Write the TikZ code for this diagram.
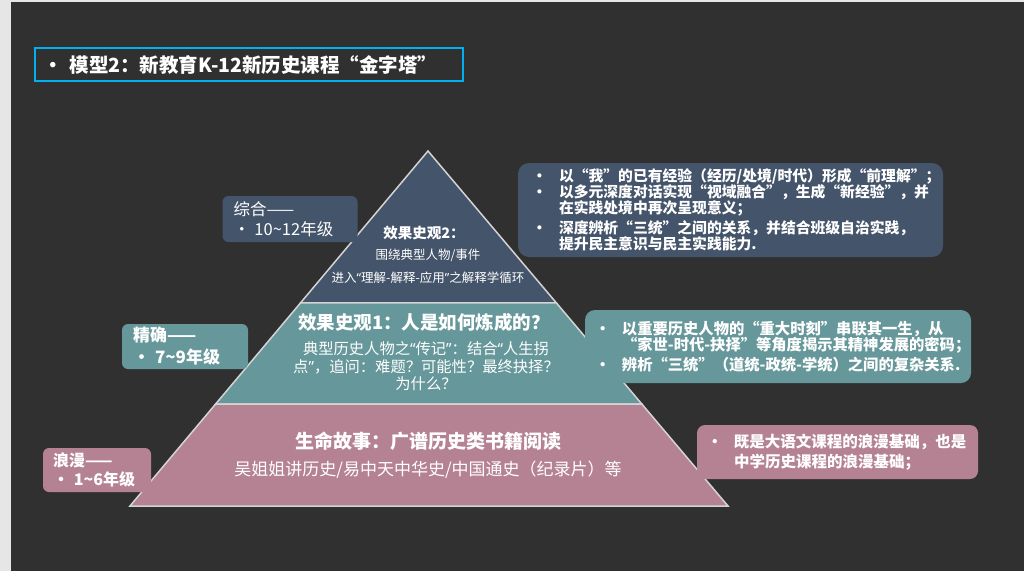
\documentclass[tikz,border=0pt]{standalone}
\usepackage{fontspec}
\setmainfont{Noto Sans CJK SC}
\newfontfamily\qfont{Noto Sans}
\usetikzlibrary{positioning,calc}

\definecolor{pagegray}{HTML}{E6E6E6}
\definecolor{slidebg}{HTML}{303030}
\definecolor{slate}{HTML}{44546A}
\definecolor{tealgreen}{HTML}{66979A}
\definecolor{mauve}{HTML}{B58293}
\definecolor{rimgray}{HTML}{D4D4D4}
\definecolor{titleblue}{HTML}{00B0F0}

\newcommand{\bul}[1][27pt]{\makebox[#1][l]{•}}
\newcommand{\hang}{\hspace*{27pt}}
\newcommand{\oq}{{\qfont “}}
\newcommand{\cq}{{\qfont ”}}

\tikzset{
  layer/.style={draw=rimgray, line width=1.5pt, line join=miter},
  sidebox/.style={rounded corners=6pt, inner sep=0pt},
  notebox/.style={rounded corners=11pt, inner sep=0pt},
  boxtext/.style={text=white, align=left, inner sep=0pt},
  layertext/.style={text=white, align=center, inner sep=0pt},
}

\begin{document}
\begin{tikzpicture}[x=1pt, y=-1pt]
    \useasboundingbox (0, 0) rectangle (1024, 571);
    \fill [pagegray] (0, 0) rectangle (1024, 571);
    \fill [slidebg] (11, 2) rectangle (1024, 571);

    % title
    \node [draw=titleblue, line width=1.2pt, minimum width=428pt, minimum height=33pt, inner sep=0pt] (titlebox) at (249, 64.5) {};
    \node [boxtext, font=\bfseries\fontsize{19.5}{20}\selectfont, right=9pt of titlebox.west] (title) {\bul[26pt]模型2：新教育K-12新历史课程“金字塔”};

    % pyramid
    \coordinate (apex) at (428, 151);
    \coordinate (bl) at (130, 506);
    \coordinate (br) at (728, 506);
    \coordinate (l1) at ($(apex)!0.428!(bl)$);
    \coordinate (r1) at ($(apex)!0.428!(br)$);
    \coordinate (l2) at ($(apex)!0.713!(bl)$);
    \coordinate (r2) at ($(apex)!0.713!(br)$);
    \filldraw [layer, fill=slate] (apex) -- (r1) -- (l1) -- cycle;
    \filldraw [layer, fill=tealgreen] (l1) -- (r1) -- (r2) -- (l2) -- cycle;
    \filldraw [layer, fill=mauve] (l2) -- (r2) -- (br) -- (bl) -- cycle;

    \node [layertext, font=\bfseries\fontsize{14.5}{15}\selectfont] (topcap) at (424, 233) {效果史观2：};
    \node [layertext, font=\fontsize{12.5}{23}\selectfont] (toptext) at (428, 266.5) {围绕典型人物/事件\\进入\oq 理解-解释-应用\cq 之解释学循环};
    \node [layertext, font=\bfseries\fontsize{18.5}{20}\selectfont] (midcap) at (424, 322) {效果史观1：人是如何炼成的？};
    \node [layertext, font=\fontsize{15.3}{17.5}\selectfont] (midtext) at (426, 366.5) {典型历史人物之\oq 传记\cq ：结合\oq 人生拐\\点\cq ，追问：难题？可能性？最终抉择？\\为什么？};
    \node [layertext, font=\bfseries\fontsize{19}{20}\selectfont] (lowcap) at (428, 441) {生命故事：广谱历史类书籍阅读};
    \node [layertext, font=\fontsize{17}{20}\selectfont] (lowtext) at (428, 470) {吴姐姐讲历史/易中天中华史/中国通史（纪录片）等};

    % grade boxes
    \node [sidebox, fill=slate, minimum width=135pt, minimum height=46pt] (zonghe) at (290, 219) {};
    \node [boxtext, font=\fontsize{16.5}{20}\selectfont, right=11pt of zonghe.west] (zonghetext) {综合——\\\bul[21pt]10\textasciitilde12年级};
    \node [sidebox, fill=tealgreen, minimum width=126pt, minimum height=45pt] (jingque) at (185, 346.5) {};
    \node [boxtext, font=\bfseries\fontsize{17}{22}\selectfont, right=11pt of jingque.west] (jingquetext) {精确——\\\bul[22pt]7\textasciitilde9年级};
    \node [sidebox, fill=mauve, minimum width=108pt, minimum height=44pt] (langman) at (97, 470) {};
    \node [boxtext, font=\bfseries\fontsize{16}{19}\selectfont, right=10pt of langman.west] (langmantext) {浪漫——\\\bul[21pt]1\textasciitilde6年级};

    % notes
    \node [notebox, fill=slate, minimum width=425pt, minimum height=94pt] (notetop) at (730.5, 210) {};
    \node [boxtext, font=\bfseries\fontsize{14.8}{16}\selectfont, right=14pt of notetop.west] (notetoptext) {\bul 以“我”的已有经验（经历/处境/时代）形成“前理解”；\\
      \bul 以多元深度对话实现“视域融合”，生成“新经验”，并\\
      \hang 在实践处境中再次呈现意义；\\[4pt]
      \bul 深度辨析“三统”之间的关系，并结合班级自治实践，\\
      \hang 提升民主意识与民主实践能力.};
    \node [notebox, fill=tealgreen, rounded corners=10pt, minimum width=386pt, minimum height=73pt] (notemid) at (778, 346.5) {};
    \node [boxtext, font=\bfseries\fontsize{15.3}{16}\selectfont, right=10pt of notemid.west] (notemidtext) {\bul 以重要历史人物的“重大时刻”串联其一生，从\\
      \hang “家世-时代-抉择”等角度揭示其精神发展的密码；\\[3pt]
      \bul 辨析“三统”（道统-政统-学统）之间的复杂关系.};
    \node [notebox, fill=mauve, rounded corners=8pt, minimum width=281pt, minimum height=54pt] (notelow) at (837.5, 452) {};
    \node [boxtext, font=\bfseries\fontsize{15.5}{20}\selectfont, right=10pt of notelow.west] (notelowtext) {\bul 既是大语文课程的浪漫基础，也是\\
      \hang 中学历史课程的浪漫基础；};
\end{tikzpicture}
\end{document}
